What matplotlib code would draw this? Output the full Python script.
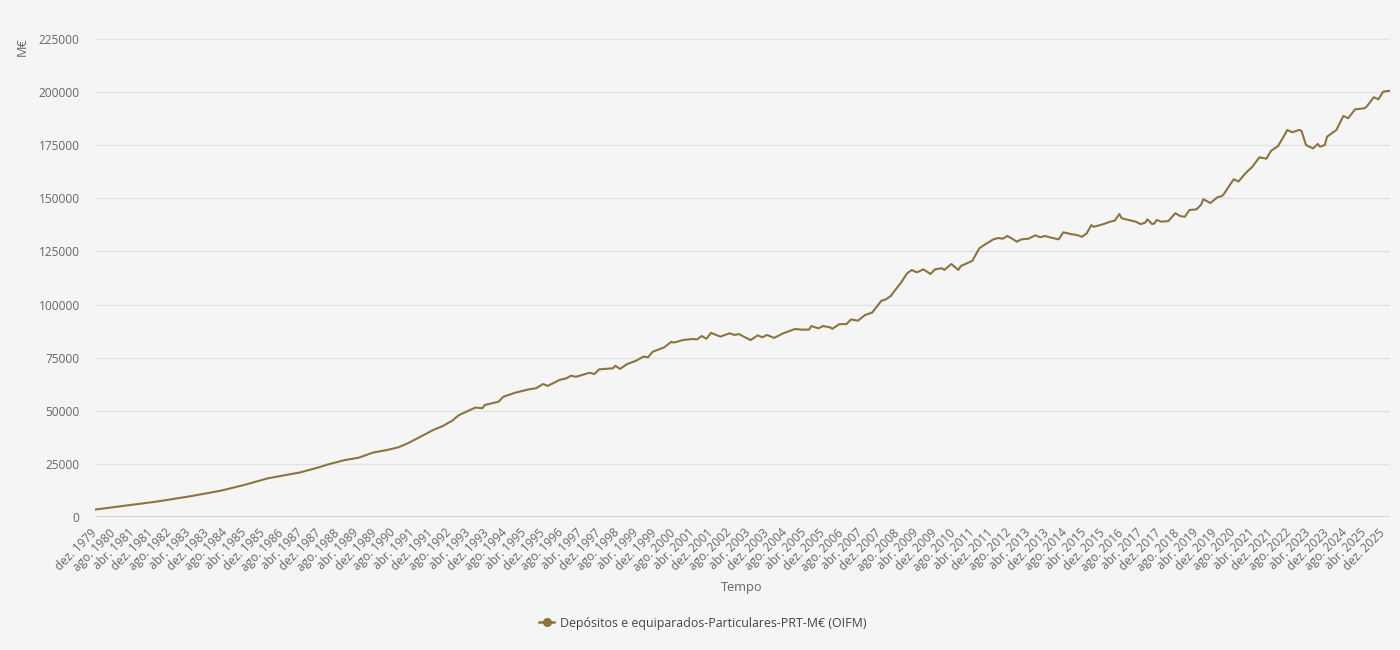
import matplotlib
matplotlib.use("Agg")
import matplotlib.pyplot as plt
from matplotlib.lines import Line2D
from datetime import date

# ---------------- data ----------------
months = [
    "1979-12", "1980-12", "1982-02", "1983-04", "1984-06", "1985-04", "1986-02", "1987-04",
    "1987-12", "1988-04", "1988-11", "1989-05", "1989-11", "1990-05", "1990-10", "1991-02",
    "1991-07", "1992-01", "1992-05", "1992-09", "1992-12", "1993-07", "1993-10", "1993-11",
    "1994-05", "1994-07", "1994-12", "1995-06", "1995-09", "1995-12", "1996-02", "1996-07",
    "1996-10", "1996-12", "1997-02", "1997-08", "1997-10", "1997-12", "1998-06", "1998-07",
    "1998-09", "1998-12", "1999-04", "1999-07", "1999-09", "1999-11", "2000-04", "2000-07",
    "2000-08", "2000-12", "2001-04", "2001-06", "2001-08", "2001-10", "2001-12", "2002-04",
    "2002-08", "2002-10", "2002-12", "2003-02", "2003-05", "2003-08", "2003-10", "2003-12",
    "2004-03", "2004-07", "2004-12", "2005-03", "2005-06", "2005-07", "2005-10", "2005-12",
    "2006-03", "2006-04", "2006-07", "2006-10", "2006-12", "2007-03", "2007-06", "2007-09",
    "2007-11", "2008-01", "2008-03", "2008-05", "2008-08", "2008-09", "2008-12", "2009-02",
    "2009-04", "2009-05", "2009-07", "2009-10", "2009-12", "2010-03", "2010-04", "2010-07",
    "2010-10", "2010-11", "2011-04", "2011-07", "2011-09", "2012-01", "2012-03", "2012-05",
    "2012-07", "2012-09", "2012-11", "2013-01", "2013-04", "2013-07", "2013-09", "2013-11",
    "2014-01", "2014-05", "2014-07", "2014-09", "2014-10", "2015-01", "2015-03", "2015-05",
    "2015-07", "2015-08", "2015-12", "2016-03", "2016-05", "2016-07", "2016-08", "2016-11",
    "2017-02", "2017-04", "2017-06", "2017-07", "2017-09", "2017-10", "2017-11", "2018-01",
    "2018-04", "2018-07", "2018-09", "2018-11", "2019-01", "2019-04", "2019-06", "2019-07",
    "2019-10", "2020-01", "2020-03", "2020-04", "2020-06", "2020-08", "2020-10", "2021-01",
    "2021-04", "2021-07", "2021-10", "2021-12", "2022-03", "2022-05", "2022-07", "2022-09",
    "2022-12", "2023-01", "2023-03", "2023-06", "2023-08", "2023-09", "2023-11", "2023-12",
    "2024-04", "2024-07", "2024-09", "2024-12", "2025-04", "2025-05", "2025-08", "2025-10",
    "2025-12", "2026-03",
]

deposits = [
    3500, 5200, 7200, 9600, 12400, 15100, 18200, 21000,
    23400, 24800, 26800, 27900, 30300, 31500, 32800, 34700,
    37500, 41000, 42800, 45300, 48000, 51500, 51200, 52700,
    54300, 56600, 58500, 60100, 60600, 62600, 61700, 64500,
    65300, 66500, 66000, 67900, 67300, 69500, 70000, 71200,
    69700, 72000, 73600, 75500, 75200, 77800, 79900, 82500,
    82100, 83300, 83800, 83600, 85200, 83900, 86700, 84900,
    86500, 85700, 86100, 84900, 83300, 85500, 84600, 85700,
    84300, 86500, 88500, 88200, 88200, 89900, 88800, 89900,
    89300, 88600, 90800, 90800, 93000, 92400, 95100, 96200,
    99000, 101800, 102500, 104000, 108400, 109700, 114700, 116300,
    115200, 115500, 116600, 114400, 116600, 117100, 116300, 119100,
    116300, 118100, 120600, 126500, 128000, 130700, 131300, 131000,
    132300, 131000, 129600, 130700, 131000, 132600, 131700, 132300,
    131700, 130700, 134000, 133500, 133200, 132700, 131900, 133500,
    137400, 136600, 137800, 139000, 139500, 142600, 140600, 139800,
    139000, 137900, 138500, 140100, 137900, 138200, 139800, 139000,
    139300, 143000, 141700, 141300, 144500, 144800, 146900, 149600,
    147800, 150500, 151100, 152400, 155800, 159000, 157900, 161800,
    164900, 169300, 168700, 172400, 174600, 178300, 182200, 181100,
    182200, 181800, 175100, 173500, 175600, 174300, 175100, 179000,
    182200, 188800, 187700, 191900, 192400, 193200, 197600, 196600,
    200200, 200700,
]

series_name = "Depósitos e equiparados-Particulares-PRT-M€ (OIFM)"
y_ticks = [0, 25000, 50000, 75000, 100000, 125000, 150000, 175000, 200000, 225000]
tick_start = (1979, 12)      # first x tick, then every 8 months
tick_step_months = 8
tick_end = (2025, 12)
month_abbr_pt = ["jan.", "fev.", "mar.", "abr.", "mai.", "jun.",
                 "jul.", "ago.", "set.", "out.", "nov.", "dez."]
x_title = "Tempo"
y_title = "M€"

# ---------------- styling ----------------
plt.rcParams["font.family"] = ["Open Sans", "DejaVu Sans"]
BG = "#f5f5f5"
LINE = "#8b7440"
TXT = "#666666"

W, H = 1400, 650
fig = plt.figure(figsize=(W / 100, H / 100), dpi=100, facecolor=BG)

left_px, right_px, bottom_px, top_px = 95, 1390, 517, 28.4
ax = fig.add_axes([left_px / W, 1 - bottom_px / H,
                   (right_px - left_px) / W, (bottom_px - top_px) / H])
ax.set_facecolor(BG)

x = [date(int(m[:4]), int(m[5:]), 1) for m in months]
ax.plot(x, deposits, color=LINE, lw=1.5, solid_joinstyle="round", zorder=3)

ax.set_xlim(x[0], x[-1])
ax.set_ylim(0, 230000)

ax.set_yticks(y_ticks)
ax.set_yticklabels([str(v) for v in y_ticks])
ax.grid(axis="y", color="#e3e3e3", lw=1, zorder=0)
ax.axhline(0, color="#c9d1e0", lw=1.2, zorder=2)

ticks = []
labels = []
yy, mm = tick_start
while (yy, mm) <= tick_end:
    ticks.append(date(yy, mm, 1))
    labels.append(f"{month_abbr_pt[mm - 1]} {yy}")
    mm += tick_step_months
    while mm > 12:
        mm -= 12
        yy += 1
ax.set_xticks(ticks)
ax.set_xticklabels(labels, rotation=45, ha="right", va="center",
                   rotation_mode="anchor")

ax.tick_params(axis="x", length=0, pad=10, labelsize=8.6, labelcolor=TXT)
ax.tick_params(axis="y", length=0, pad=11, labelsize=8.6, labelcolor=TXT)
for s in ax.spines.values():
    s.set_visible(False)

fig.text(742 / W, 1 - 587 / H, x_title, ha="center", va="center",
         fontsize=9.2, color=TXT)
fig.text(22 / W, 1 - 47 / H, y_title, ha="center", va="center",
         rotation=90, fontsize=9.2, color=TXT)

handle = Line2D([], [], color=LINE, lw=1.8, marker="o", markersize=5.5,
                markerfacecolor=LINE, markeredgecolor=LINE)
leg = fig.legend([handle], [series_name], loc="center",
                 bbox_to_anchor=(703 / W, 1 - 623 / H), frameon=False,
                 fontsize=8.9, handlelength=1.2, handletextpad=0.5,
                 labelcolor="#444444")

fig.savefig("out.png", dpi=100, facecolor=BG)
